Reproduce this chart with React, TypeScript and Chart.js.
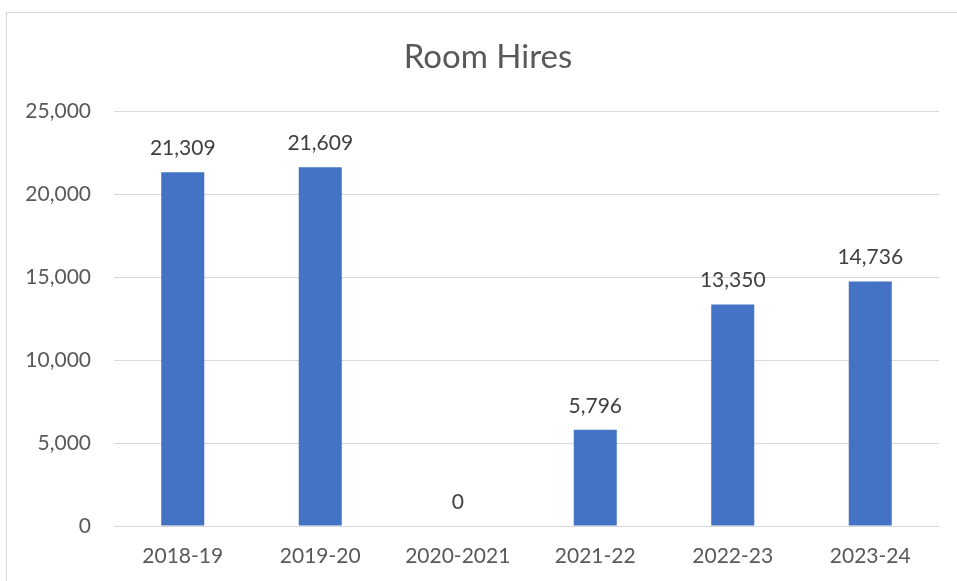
import React, { useEffect, useRef } from "react";
import { Chart, registerables } from "chart.js";

Chart.register(...registerables);

const TITLE = "Room Hires";
const CATEGORIES = ["2018-19", "2019-20", "2020-2021", "2021-22", "2022-23", "2023-24"];
const VALUES = [21309, 21609, 0, 5796, 13350, 14736];
const Y_MIN = 0;
const Y_MAX = 25000;
const Y_STEP = 5000;

const FONT = "Lato, 'Open Sans', sans-serif";
const fmt = (v: number) => Number(v).toLocaleString("en-US");

const labelPlugin = {
  id: "barLabels",
  afterDatasetsDraw(chart: any) {
    const ctx = chart.ctx;
    const meta = chart.getDatasetMeta(0);
    ctx.save();
    ctx.font = `21px ${FONT}`;
    ctx.fillStyle = "#404040";
    ctx.textAlign = "center";
    ctx.textBaseline = "alphabetic";
    meta.data.forEach((bar: any, i: number) => {
      ctx.fillText(fmt(VALUES[i]), bar.x, bar.y - 17);
    });
    ctx.restore();
  },
};

const titlePlugin = {
  id: "fixedTitle",
  afterDraw(chart: any) {
    const ctx = chart.ctx;
    ctx.save();
    ctx.font = `33px ${FONT}`;
    ctx.fillStyle = "#595959";
    ctx.textAlign = "center";
    ctx.textBaseline = "alphabetic";
    ctx.fillText(TITLE, 488, 68);
    ctx.restore();
  },
};

export default function App() {
  const ref = useRef<HTMLCanvasElement>(null);
  useEffect(() => {
    if (!ref.current) return;
    const chart = new Chart(ref.current, {
      type: "bar",
      data: {
        labels: CATEGORIES,
        datasets: [
          {
            data: VALUES,
            backgroundColor: "#4472C4",
            borderWidth: 0,
            categoryPercentage: 0.313,
            barPercentage: 1,
          },
        ],
      },
      options: {
        animation: false,
        responsive: false,
        maintainAspectRatio: false,
        layout: { padding: { top: 111, right: 18, bottom: 0, left: 0 } },
        plugins: {
          legend: { display: false },
          title: { display: false },
          tooltip: { enabled: false },
        },
        scales: {
          x: {
            grid: { display: false, drawTicks: false },
            border: { display: false },
            ticks: {
              color: "#595959",
              font: { family: FONT, size: 21 },
              padding: 18,
              maxRotation: 0,
            },
            afterFit(scale: any) {
              scale.height = 55;
            },
          },
          y: {
            min: Y_MIN,
            max: Y_MAX,
            grid: { color: "#d9d9d9", lineWidth: 1, drawTicks: false },
            border: { display: false },
            ticks: {
              stepSize: Y_STEP,
              color: "#595959",
              font: { family: FONT, size: 21 },
              padding: 23,
              callback: (v: any) => fmt(v),
            },
            afterFit(scale: any) {
              scale.width = 114;
            },
          },
        },
      },
      plugins: [labelPlugin, titlePlugin],
    });
    return () => chart.destroy();
  }, []);

  return (
    <div style={{ position: "absolute", left: 0, top: 0, width: 957, height: 581, background: "#fff", overflow: "hidden" }}>
      <div
        style={{
          position: "absolute",
          left: 6,
          top: 12,
          width: 1000,
          height: 700,
          border: "1px solid #d9d9d9",
          boxSizing: "border-box",
        }}
      />
      <canvas ref={ref} width={957} height={581} style={{ position: "absolute", left: 0, top: 0, display: "block" }} />
    </div>
  );
}
